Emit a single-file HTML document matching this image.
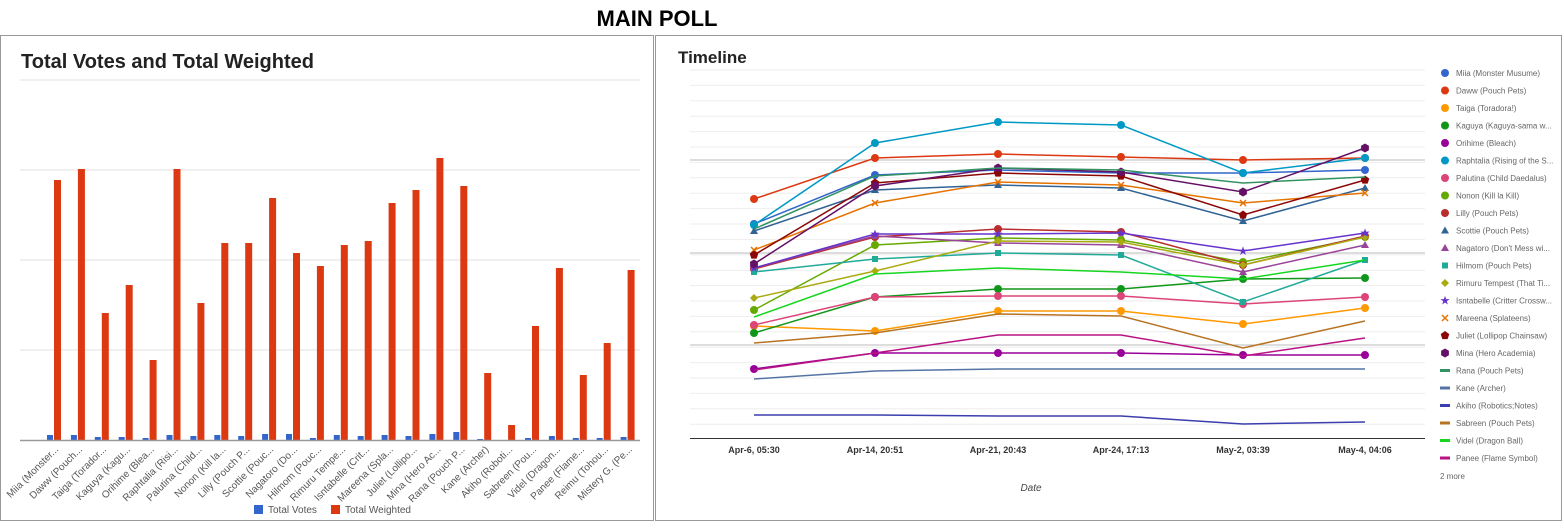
<!DOCTYPE html>
<html><head><meta charset="utf-8"><style>
body{margin:0;background:#fff;width:1564px;height:523px;overflow:hidden;font-family:"Liberation Sans",sans-serif}
</style></head><body>
<svg id="s" width="1564" height="523" xmlns="http://www.w3.org/2000/svg" font-family="Liberation Sans, sans-serif">
<text x="657" y="26" text-anchor="middle" font-size="22" font-weight="bold" fill="#000">MAIN POLL</text>
<rect x="0.5" y="35.5" width="653" height="485" fill="#fff" stroke="#999"/>
<rect x="655.5" y="35.5" width="906" height="485" fill="#fff" stroke="#999"/>
<text x="21" y="68" font-size="20" font-weight="bold" fill="#222">Total Votes and Total Weighted</text>
<text x="678" y="63" font-size="17" font-weight="bold" fill="#222">Timeline</text>
<g id="L"></g><g id="R"></g>
</svg>
<script>
var NS="http://www.w3.org/2000/svg";
function el(p,t,a,txt){var e=document.createElementNS(NS,t);for(var k in a)e.setAttribute(k,a[k]);if(txt!==undefined)e.textContent=txt;p.appendChild(e);return e;}
var L=document.getElementById('L'),R=document.getElementById('R');
[80,170,260,350].forEach(function(y){el(L,'line',{x1:20,x2:640,y1:y,y2:y,stroke:'#e0e0e0'})});
var names=["Miia  (Monster...","Daww (Pouch...","Taiga (Torador...","Kaguya (Kagu...","Orihime (Blea...","Raphtalia (Risi...","Palutina (Child...","Nonon (Kill la...","Lilly (Pouch P...","Scottie (Pouc...","Nagatoro (Do...","Hilmom (Pouc...","Rimuru Tempe...","Isntabelle (Crit...","Mareena (Spla...","Juliet (Lollipo...","Mina (Hero Ac...","Rana (Pouch P...","Kane (Archer)","Akiho (Roboti...","Sabreen (Pou...","Videl (Dragon...","Panee (Flame...","Reimu (Tohou...","Mistery G. (Pe..."];
var red=[180,169,313,285,360,169,303,243,243,198,253,266,245,241,203,190,158,186,373,425,326,268,375,343,270];
var blue=[435,435,437,437,438,435,436,435,436,434,434,438,435,436,435,436,434,432,439,440,438,436,438,438,437];
names.forEach(function(n,i){var x=57+i*23.9;
el(L,'rect',{x:x-10,y:blue[i],width:6,height:440-blue[i],fill:'#3366cc'});
el(L,'rect',{x:x-3,y:red[i],width:7,height:440-red[i],fill:'#dc3912'});
el(L,'text',{x:x+2,y:450,'font-size':10,fill:'#555','text-anchor':'end',transform:'rotate(-45 '+(x+2)+' 450)'},n);});
el(L,'line',{x1:20,x2:640,y1:440.5,y2:440.5,stroke:'#999',"stroke-width":1.5});
el(L,'rect',{x:254,y:505,width:9,height:9,fill:'#3366cc'});el(L,'text',{x:268,y:513,'font-size':10,fill:'#555'},'Total Votes');
el(L,'rect',{x:331,y:505,width:9,height:9,fill:'#dc3912'});el(L,'text',{x:345,y:513,'font-size':10,fill:'#555'},'Total Weighted');
// right grid
for(var y=70;y<=438;y+=15.4){el(R,'line',{x1:690,x2:1425,y1:y,y2:y,stroke:'#eee'});}
[160,253,345].forEach(function(y){el(R,'line',{x1:690,x2:1425,y1:y,y2:y,stroke:'#bbb'})});
el(R,'line',{x1:690,x2:1425,y1:438.5,y2:438.5,stroke:'#333'});
var xs=[754,875,998,1121,1243,1365],lab=["Apr-6, 05:30","Apr-14, 20:51","Apr-21, 20:43","Apr-24, 17:13","May-2, 03:39","May-4, 04:06"];
xs.forEach(function(x,i){el(R,'text',{x:x,y:453,'font-size':9,'font-weight':'bold',fill:'#333','text-anchor':'middle'},lab[i]);});
el(R,'text',{x:1031,y:491,'font-size':10,'font-style':'italic',fill:'#444','text-anchor':'middle'},'Date');
var S=[
["Miia  (Monster Musume)","#3366cc","c",[224,175,170,173,173,170]],
["Daww (Pouch Pets)","#dc3912","c",[199,158,154,157,160,158]],
["Taiga (Toradora!)","#ff9900","c",[326,331,311,311,324,308]],
["Kaguya (Kaguya-sama w...","#109618","c",[333,297,289,289,279,278]],
["Orihime (Bleach)","#990099","c",[369,353,353,353,355,355]],
["Raphtalia (Rising of the S...","#0099c6","c",[225,143,122,125,173,158]],
["Palutina (Child Daedalus)","#dd4477","c",[325,297,296,296,304,297]],
["Nonon (Kill la Kill)","#66aa00","c",[310,245,238,240,262,237]],
["Lilly (Pouch Pets)","#b82e2e","c",[269,237,229,232,265,236]],
["Scottie (Pouch Pets)","#316395","t",[231,190,185,188,221,188]],
["Nagatoro (Don't Mess wi...","#994499","t",[268,236,243,245,272,245]],
["Hilmom (Pouch Pets)","#22aa99","s",[272,259,253,255,302,260]],
["Rimuru Tempest (That Ti...","#aaaa11","d",[298,271,241,242,265,237]],
["Isntabelle (Critter Crossw...","#6633cc","*",[268,234,234,233,251,233]],
["Mareena (Splateens)","#e67300","x",[250,203,182,185,203,193]],
["Juliet (Lollipop Chainsaw)","#8b0707","p",[255,183,173,176,215,180]],
["Mina (Hero Academia)","#651067","h",[264,186,168,172,192,148]],
["Rana (Pouch Pets)","#329262","l",[229,176,168,170,183,177]],
["Kane (Archer)","#5574a6","l",[379,371,369,369,369,369]],
["Akiho (Robotics;Notes)","#3b3eac","l",[415,415,416,416,424,422]],
["Sabreen (Pouch Pets)","#b77322","l",[343,333,314,316,348,321]],
["Videl (Dragon Ball)","#16d620","l",[317,274,268,272,279,260]],
["Panee (Flame Symbol)","#b91383","l",[370,353,335,335,356,338]]];
function mk(g,t,x,y,c){
 if(t=='c')el(g,'circle',{cx:x,cy:y,r:4,fill:c});
 else if(t=='t')el(g,'polygon',{points:(x-4)+','+(y+3)+' '+(x+4)+','+(y+3)+' '+x+','+(y-4),fill:c});
 else if(t=='s')el(g,'rect',{x:x-3,y:y-3,width:6,height:6,fill:c});
 else if(t=='d')el(g,'polygon',{points:x+','+(y-4)+' '+(x+4)+','+y+' '+x+','+(y+4)+' '+(x-4)+','+y,fill:c});
 else if(t=='*')el(g,'text',{x:x,y:y+4,'font-size':12,fill:c,'text-anchor':'middle'},'★');
 else if(t=='x'){el(g,'path',{d:'M'+(x-3)+' '+(y-3)+'L'+(x+3)+' '+(y+3)+'M'+(x+3)+' '+(y-3)+'L'+(x-3)+' '+(y+3),stroke:c,'stroke-width':1.5});}
 else if(t=='p'||t=='h'){var n=t=='p'?5:6,pts=[];for(var k=0;k<n;k++){var a=-Math.PI/2+k*2*Math.PI/n;pts.push((x+4.5*Math.cos(a))+','+(y+4.5*Math.sin(a)));}el(g,'polygon',{points:pts.join(' '),fill:c});}
 else if(t=='l')el(g,'rect',{x:x-5,y:y-1.5,width:10,height:3,fill:c});
}
S.forEach(function(s){el(R,'polyline',{points:xs.map(function(x,i){return x+','+s[3][i]}).join(' '),fill:'none',stroke:s[1],'stroke-width':1.5});
 if(s[2]!='l')xs.forEach(function(x,i){mk(R,s[2],x,s[3][i],s[1]);});});
S.forEach(function(s,i){var y=73+i*17.5;mk(R,s[2],1445,y,s[1]);el(R,'text',{x:1456,y:y+3,'font-size':8,fill:'#666'},s[0]);});
el(R,'text',{x:1440,y:479,'font-size':8,fill:'#666'},'2 more');
</script>
</body></html>
